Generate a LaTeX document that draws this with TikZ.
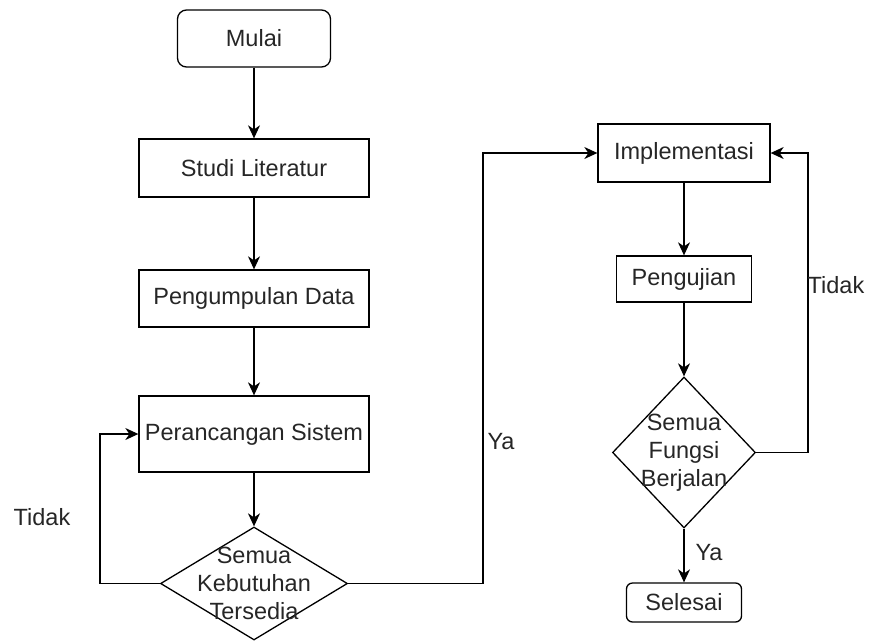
\documentclass[tikz,border=0pt]{standalone}
\usepackage{fontspec}
\setmainfont{Liberation Sans}
\usetikzlibrary{shapes.geometric,arrows.meta}
\begin{document}
\begin{tikzpicture}[x=1pt,y=-1pt,
  every node/.style={font=\fontsize{23.5}{28}\selectfont, text=black!85},
  box/.style={draw, line width=1.3pt, inner sep=0pt},
  term/.style={box, rounded corners=9pt},
  decision/.style={draw, line width=1.3pt, diamond, inner sep=0pt},
  flow/.style={draw, line width=1.3pt, -{Stealth[length=13pt,width=12pt,inset=4pt]}},
  lbl/.style={inner sep=0pt}
]
\useasboundingbox (0,0) rectangle (876,641);

% left column
\node[term, minimum width=153pt, minimum height=57pt] (mulai) at (254,38.5) {Mulai};
\node[box, minimum width=230pt, minimum height=58pt] (studi) at (254,168) {Studi Literatur};
\node[box, minimum width=230pt, minimum height=57pt] (kumpul) at (254,298.5) {Pengumpulan Data};
\node[box, minimum width=230pt, minimum height=76pt] (rancang) at (254,434) {Perancangan Sistem};
\node[decision, minimum width=187pt, minimum height=113pt] (d1) at (254,583.5) {};
\node[align=center, lbl] at (d1) {Semua\\Kebutuhan\\Tersedia};

% right column
\node[box, minimum width=172pt, minimum height=58pt] (impl) at (684,153) {Implementasi};
\node[box, minimum width=135pt, minimum height=46pt] (uji) at (684,279) {Pengujian};
\node[decision, minimum width=143pt, minimum height=151pt] (d2) at (684,452.5) {};
\node[align=center, lbl] at (d2) {Semua\\Fungsi\\Berjalan};
\node[term, rounded corners=6pt, minimum width=115pt, minimum height=39pt] (selesai) at (684,602.5) {Selesai};

% loop corners
\coordinate (lc) at (100,583.5);
\coordinate (mc) at (483,583.5);
\coordinate (rc) at (808,452.5);

% connectors
\draw[flow] (mulai) -- (studi);
\draw[flow] (studi) -- (kumpul);
\draw[flow] (kumpul) -- (rancang);
\draw[flow] (rancang) -- (d1.north);
\draw[flow] (d1.west) -- (lc) |- (rancang.west);
\draw[flow] (d1.east) -- (mc) |- (impl.west);
\draw[flow] (impl) -- (uji);
\draw[flow] (uji) -- (d2.north);
\draw[flow] (d2.south) -- (selesai);
\draw[flow] (d2.east) -- (rc) |- (impl.east);

% branch labels
\node[lbl] (t1) at (42,517) {Tidak};
\node[lbl] (y1) at (501,442) {Ya};
\node[lbl] (t2) at (836,285) {Tidak};
\node[lbl] (y2) at (709,553) {Ya};
\end{tikzpicture}
\end{document}
